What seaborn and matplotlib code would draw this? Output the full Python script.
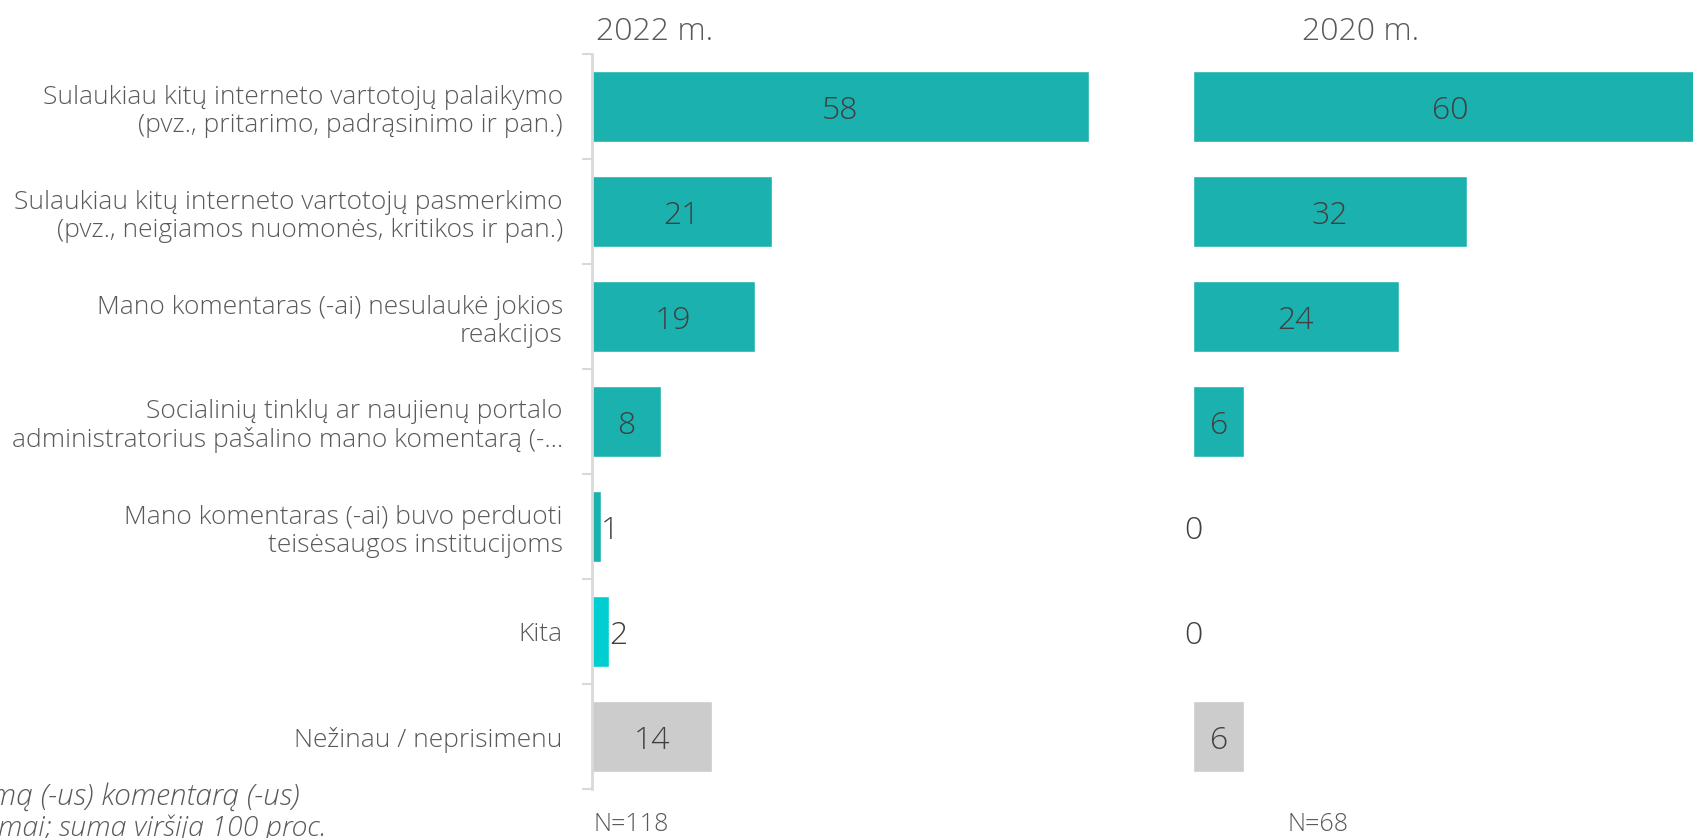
import matplotlib
matplotlib.use("Agg")
import matplotlib.pyplot as plt
import seaborn as sns
import pandas as pd

categories = [
    "Sulaukiau kitų interneto vartotojų palaikymo\n(pvz., pritarimo, padrąsinimo ir pan.)",
    "Sulaukiau kitų interneto vartotojų pasmerkimo\n(pvz., neigiamos nuomonės, kritikos ir pan.)",
    "Mano komentaras (-ai) nesulaukė jokios\nreakcijos",
    "Socialinių tinklų ar naujienų portalo\nadministratorius pašalino mano komentarą (-…",
    "Mano komentaras (-ai) buvo perduoti\nteisėsaugos institucijoms",
    "Kita",
    "Nežinau / neprisimenu",
]
values_2022 = [58, 21, 19, 8, 1, 2, 14]
values_2020 = [60, 32, 24, 6, 0, 0, 6]
panel_titles = ["2022 m.", "2020 m."]
sample_sizes = ["N=118", "N=68"]
bar_colors = ["#1BB1AF", "#1BB1AF", "#1BB1AF", "#1BB1AF", "#1BB1AF", "#00CED1", "#CCCCCC"]
footnotes = ["Bazė: respondentai, parašę bent vieną viešą mą (-us) komentarą (-us)",
             "Galimi keli atsakymai; suma viršija 100 proc."]

sns.set_style("white")
plt.rcParams["font.family"] = ["Open Sans", "DejaVu Sans"]
plt.rcParams["font.weight"] = "light"

W, H = 1693, 838
fig = plt.figure(figsize=(W / 100, H / 100), dpi=100)

def fx(px):
    return px / W

def fy(py):
    return 1 - py / H

axes_top, axes_bot = 54, 789
ax1 = fig.add_axes([fx(592), fy(axes_bot), fx(531), (axes_bot - axes_top) / H])
ax2 = fig.add_axes([fx(1193), fy(axes_bot), fx(531), (axes_bot - axes_top) / H])

for ax, vals in [(ax1, values_2022), (ax2, values_2020)]:
    df = pd.DataFrame({"cat": categories, "val": vals})
    sns.barplot(data=df, x="val", y="cat", hue="cat", palette=bar_colors,
                legend=False, orient="h", width=0.68, ax=ax, saturation=1)
    ax.set_xlim(0, 62)
    ax.set_ylim(6.5, -0.5)
    ax.set_xlabel("")
    ax.set_ylabel("")
    ax.set_xticks([])
    for s in ["top", "right", "bottom"]:
        ax.spines[s].set_visible(False)
    for i, v in enumerate(vals):
        y = i + 0.04
        if v == 0:
            ax.text(0, y, str(v), ha="center", va="center", fontsize=23,
                    color="#404040", clip_on=False)
        elif v < 5:
            ax.text(v + 0.05, y, str(v), ha="left", va="center", fontsize=23,
                    color="#404040")
        else:
            ax.text(v / 2, y, str(v), ha="center", va="center", fontsize=23,
                    color="#404040")

# left axis with boundary ticks
ax1.spines["left"].set_color("#D9D9D9")
ax1.spines["left"].set_linewidth(2)
ax1.set_yticks(range(len(categories)))
ax1.set_yticklabels(categories, fontsize=19, color="#595959", linespacing=1.17)
ax1.tick_params(axis="y", which="major", left=True, length=0, pad=21)
ax1.set_yticks([i - 0.5 for i in range(len(categories) + 1)], minor=True)
ax1.tick_params(axis="y", which="minor", left=True, length=7, width=1.5,
                color="#D9D9D9")

ax2.spines["left"].set_visible(False)
ax2.set_yticks([])

for x, t in [(596, panel_titles[0]), (1302, panel_titles[1])]:
    fig.text(fx(x), fy(32), t, ha="left", va="center", fontsize=23, color="#595959")
for x, t in [(593, sample_sizes[0]), (1288, sample_sizes[1])]:
    fig.text(fx(x), fy(824), t, ha="left", va="center", fontsize=18, color="#595959")

fig.text(fx(300), fy(797), footnotes[0], ha="right", va="center", fontsize=21.5,
         style="italic", color="#595959")
fig.text(fx(326), fy(828), footnotes[1], ha="right", va="center", fontsize=20.5,
         style="italic", color="#595959")

fig.savefig("out.png", dpi=100)
